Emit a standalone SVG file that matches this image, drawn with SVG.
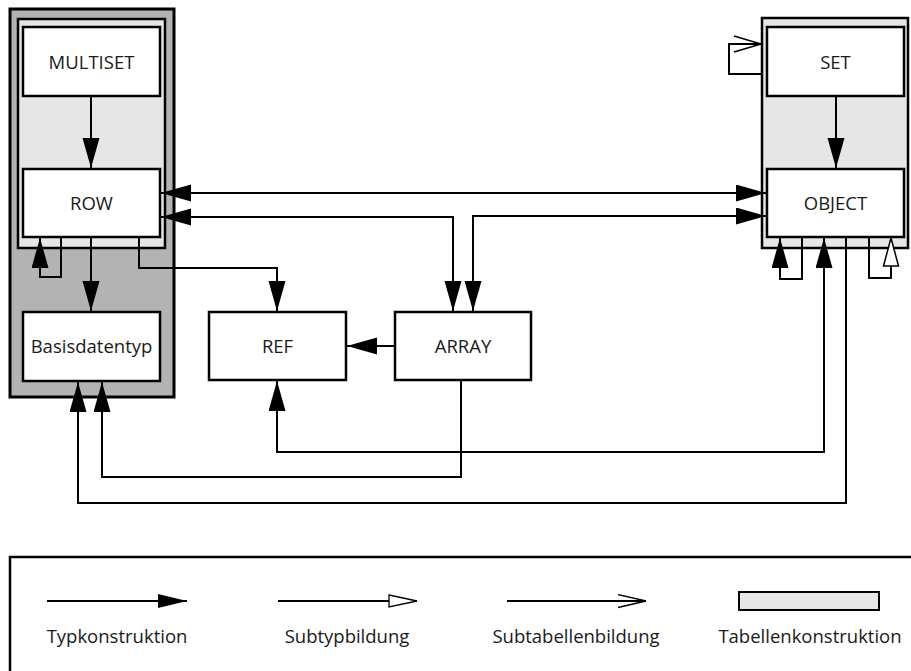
<svg xmlns="http://www.w3.org/2000/svg" width="911" height="671" viewBox="0 0 911 671">
  <style>
    .box { fill: #ffffff; stroke: #000000; stroke-width: 2.5; }
    .tbl { fill: #e6e6e6; stroke: #000000; stroke-width: 2.5; }
    .outer { fill: #b3b3b3; stroke: #000000; stroke-width: 3; }
    .lbl { font-family: "Open Sans", "Liberation Sans", Arial, sans-serif; font-size: 18.5px; fill: #1a1a1a; text-anchor: middle; }
    .conn { fill: none; stroke: #000000; stroke-width: 2; }
    .typ { marker-end: url(#filled); }
    .typ2 { marker-start: url(#filled); marker-end: url(#filled); }
  </style>
  <defs>
    <marker id="filled" markerUnits="userSpaceOnUse" markerWidth="32" markerHeight="18" refX="30" refY="8.5" orient="auto-start-reverse">
      <path d="M0,0 L30,8.5 L0,17 Z" fill="#000000"/>
    </marker>
    <marker id="hollow" markerUnits="userSpaceOnUse" markerWidth="34" markerHeight="20" refX="30" refY="10" orient="auto">
      <path d="M2,2.5 L30,10 L2,17.5 Z" fill="#ffffff" stroke="#000000" stroke-width="1.5"/>
    </marker>
    <marker id="open" markerUnits="userSpaceOnUse" markerWidth="32" markerHeight="20" refX="28" refY="10" orient="auto">
      <path d="M1,2 L28,10 L1,18" fill="none" stroke="#000000" stroke-width="1.5"/>
    </marker>
    <marker id="legFilled" markerUnits="userSpaceOnUse" markerWidth="32" markerHeight="16" refX="29" refY="7" orient="auto">
      <path d="M0,0 L29,7 L0,14 Z" fill="#000000"/>
    </marker>
    <marker id="legHollow" markerUnits="userSpaceOnUse" markerWidth="32" markerHeight="16" refX="29" refY="7" orient="auto">
      <path d="M1,1 L29,7 L1,13 Z" fill="#ffffff" stroke="#000000" stroke-width="1.3"/>
    </marker>
    <marker id="legOpen" markerUnits="userSpaceOnUse" markerWidth="32" markerHeight="16" refX="29" refY="7" orient="auto">
      <path d="M1,0.5 L29,7 L1,13.5" fill="none" stroke="#000000" stroke-width="1.3"/>
    </marker>
  </defs>

  <!-- table containers -->
  <g id="row-table">
    <rect class="outer" x="10" y="9" width="164" height="388"/>
    <rect class="tbl" x="18" y="19" width="147" height="229"/>
  </g>
  <g id="object-table">
    <rect class="tbl" x="762" y="18" width="146" height="230"/>
  </g>

  <!-- nodes -->
  <g id="multiset">
    <rect class="box" x="23" y="27" width="137" height="69"/>
    <text class="lbl" x="91.5" y="69">MULTISET</text>
  </g>
  <g id="row">
    <rect class="box" x="23" y="169" width="137" height="68"/>
    <text class="lbl" x="91.5" y="210">ROW</text>
  </g>
  <g id="basisdatentyp">
    <rect class="box" x="23" y="312" width="137" height="69"/>
    <text class="lbl" x="91.5" y="353">Basisdatentyp</text>
  </g>
  <g id="ref">
    <rect class="box" x="209" y="312" width="137" height="68"/>
    <text class="lbl" x="277.5" y="353">REF</text>
  </g>
  <g id="array">
    <rect class="box" x="395" y="312" width="136" height="68"/>
    <text class="lbl" x="463" y="353">ARRAY</text>
  </g>
  <g id="set">
    <rect class="box" x="767" y="27" width="137" height="69"/>
    <text class="lbl" x="835.5" y="69">SET</text>
  </g>
  <g id="object">
    <rect class="box" x="767" y="169" width="137" height="68"/>
    <text class="lbl" x="835.5" y="210">OBJECT</text>
  </g>

  <!-- connectors -->
  <g id="connectors">
    <path class="conn typ" d="M91,96 V168"/>
    <path class="conn typ" d="M61,237 V277 H40 V238"/>
    <path class="conn typ" d="M91,237 V311"/>
    <path class="conn typ" d="M139,237 V268 H277 V311"/>
    <path class="conn typ2" d="M161,193 H766"/>
    <path class="conn typ2" d="M161,217 H453 V311"/>
    <path class="conn typ2" d="M766,216 H473 V311"/>
    <path class="conn typ" d="M395,346 H347"/>
    <path class="conn typ" d="M836,96 V168"/>
    <path class="conn" marker-end="url(#open)" d="M762,74 H729 V44 H761"/>
    <path class="conn typ" d="M802,237 V279 H780 V238"/>
    <path class="conn" marker-end="url(#hollow)" d="M869,237 V278 H891 V238"/>
    <path class="conn typ2" d="M824,238 V452 H277 V381"/>
    <path class="conn typ" d="M461,380 V477 H102 V382"/>
    <path class="conn typ" d="M846,237 V503 H78 V382"/>
  </g>

  <!-- legend -->
  <g id="legend">
    <rect x="10" y="557" width="920" height="130" fill="none" stroke="#000000" stroke-width="2.5"/>
    <path class="conn" marker-end="url(#legFilled)" d="M47,601 H187"/>
    <path class="conn" marker-end="url(#legHollow)" d="M278,601 H417"/>
    <path class="conn" marker-end="url(#legOpen)" d="M507,601 H646"/>
    <rect x="739" y="592" width="140" height="18" fill="#e6e6e6" stroke="#000000" stroke-width="2"/>
    <text class="lbl" x="117" y="643">Typkonstruktion</text>
    <text class="lbl" x="347" y="643">Subtypbildung</text>
    <text class="lbl" x="576" y="643">Subtabellenbildung</text>
    <text class="lbl" x="810" y="643">Tabellenkonstruktion</text>
  </g>
</svg>
